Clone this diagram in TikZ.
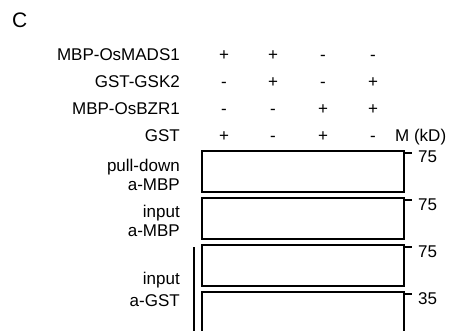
\documentclass[tikz,border=0pt]{standalone}
\usepackage{fontspec}
\setmainfont{Liberation Sans}
\begin{document}
\begin{tikzpicture}[x=1pt,y=-1pt,
  txt/.style={inner sep=0pt,font=\fontsize{17}{18}\selectfont},
  lbl/.style={txt,anchor=base east},
  sign/.style={txt,anchor=base},
  mw/.style={txt,anchor=base west},
  blot/.style={draw,line width=1.9pt},
  tick/.style={line width=1.9pt}]
\useasboundingbox (0,0) rectangle (449,331);
\clip (0,0) rectangle (449,331);
\node[txt,anchor=base west,font=\fontsize{21}{22}\selectfont] (panel) at (12,28) {C};
% row labels
\node[lbl] (r1) at (180,60.5) {MBP-OsMADS1};
\node[lbl] (r2) at (180,87.5) {GST-GSK2};
\node[lbl] (r3) at (180,114.5) {MBP-OsBZR1};
\node[lbl] (r4) at (180,141.5) {GST};
% signs
\foreach \r/\y/\a/\b/\c/\d in {1/60.5/+/+/-/-, 2/87.5/-/+/-/+, 3/114.5/-/-/+/+, 4/141.5/+/-/+/-}{
  \node[sign] (s\r a) at (224,\y) {\a};
  \node[sign] (s\r b) at (273,\y) {\b};
  \node[sign] (s\r c) at (323,\y) {\c};
  \node[sign] (s\r d) at (373,\y) {\d};
}
\node[mw] (mk) at (395,141.5) {M (kD)};
% blots
\draw[blot] (202,151) rectangle (404,192);
\draw[blot] (202,198) rectangle (404,239);
\draw[blot] (202,245) rectangle (404,286);
\draw[blot] (202,292) rectangle (404,350);
% ticks
\draw[tick] (404,153) -- (412,153);
\draw[tick] (404,200) -- (412,200);
\draw[tick] (404,247) -- (412,247);
\draw[tick] (404,294) -- (412,294);
\node[mw] (m1) at (418,163) {75};
\node[mw] (m2) at (418,210) {75};
\node[mw] (m3) at (418,257) {75};
\node[mw] (m4) at (418,304) {35};
% left bracket line
\draw[line width=1.9pt] (194,247) -- (194,350);
% lane labels
\node[lbl] (l1a) at (180,171.5) {pull-down};
\node[lbl] (l1b) at (180,190) {a-MBP};
\node[lbl] (l2a) at (180,217) {input};
\node[lbl] (l2b) at (180,236.5) {a-MBP};
\node[lbl] (l3a) at (180,284.5) {input};
\node[lbl] (l3b) at (180,306) {a-GST};
\end{tikzpicture}
\end{document}
